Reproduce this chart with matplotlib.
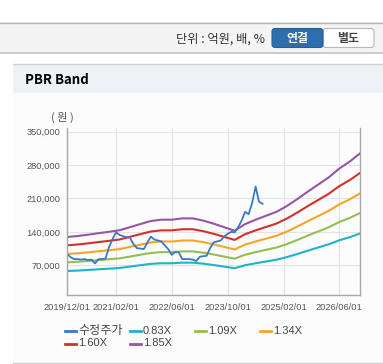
import matplotlib.pyplot as plt
from matplotlib.patches import Rectangle, FancyBboxPatch
from matplotlib.lines import Line2D
import numpy as np
import pandas as pd

plt.rcParams['font.family'] = ['Liberation Sans', 'Noto Sans CJK KR', 'DejaVu Sans']

# monthly adjusted price (수정주가), 2019/12 .. 2024/08
price = [94000, 87000, 83000, 83000, 82000, 83000, 81000, 82000, 74000, 83000,
         83000, 84000, 108000, 125000, 139000, 134000, 131000, 129000, 128000, 115000,
         106000, 105000, 104000, 118000, 130000, 124000, 122000, 120000, 112000, 104000,
         92000, 98000, 97000, 83000, 83000, 83000, 82000, 79000, 88000, 89000,
         90000, 106000, 118000, 120000, 122000, 130000, 136000, 140000, 139000, 150000,
         164000, 182000, 177000, 200000, 235000, 203000, 199000]
price_dates = pd.date_range('2019-12-01', periods=len(price), freq='MS')

# quarterly BPS, 2019/12 .. 2026/12
bps = [69900, 71000, 72500, 74200, 75800, 77500, 81000, 84600, 88000, 89500,
       89500, 91000, 91000, 88500, 85000, 81000, 77000, 84500, 89500, 94000,
       98500, 105000, 113000, 121500, 129500, 137500, 147500, 155500, 165000]
bps_dates = pd.date_range('2019-12-01', periods=len(bps), freq='3MS')

multiples = [0.83, 1.09, 1.34, 1.60, 1.85]
band_labels = ['0.83X', '1.09X', '1.34X', '1.60X', '1.85X']
band_colors = ['#1fb3c8', '#93bf4f', '#f5a62a', '#d1312c', '#9655a5']
price_color = '#3a78c6'

tick_dates = ['2019-12-01', '2021-02-01', '2022-06-01', '2023-10-01', '2025-02-01', '2026-06-01']
tick_labels = ['2019/12/01', '2021/02/01', '2022/06/01', '2023/10/01', '2025/02/01', '2026/06/01']
y_ticks = [70000, 140000, 210000, 280000, 350000]

W, H = 383, 364
fig = plt.figure(figsize=(W / 100, H / 100), dpi=100)
fig.patch.set_facecolor('white')


def fx(px):
    return px / W


def fy(py):
    return 1 - py / H


def bg_rect(x0, y0, x1, y1, color):
    fig.add_artist(Rectangle((fx(x0), fy(y1)), fx(x1) - fx(x0), fy(y0) - fy(y1),
                             transform=fig.transFigure, facecolor=color, edgecolor='none', zorder=-10))


def hline(x0, x1, y, color, lw=1):
    fig.add_artist(Line2D([fx(x0), fx(x1)], [fy(y), fy(y)], transform=fig.transFigure,
                          color=color, lw=lw, zorder=-9))


# top toolbar
bg_rect(0, 22.5, W, 53, '#f4f4f4')
hline(0, W, 22.5, '#b5b5b5')
hline(0, W, 53, '#c4c4c4', 1.2)
fig.text(fx(265), fy(39), '단위 : 억원, 배, %', ha='right', va='center', fontsize=8.8,
         family=['Noto Sans CJK KR', 'DejaVu Sans'], color='#333333')
fig.add_artist(FancyBboxPatch((fx(323), fy(47.5)), fx(51), fy(28.5) - fy(47.5),
                              boxstyle='round,pad=0,rounding_size=0.008', transform=fig.transFigure,
                              facecolor='white', edgecolor='#b8b8b8', lw=0.8))
fig.add_artist(FancyBboxPatch((fx(272), fy(47.5)), fx(51), fy(28.5) - fy(47.5),
                              boxstyle='round,pad=0,rounding_size=0.008', transform=fig.transFigure,
                              facecolor='#2f6eae', edgecolor='#285f98', lw=0.8))
fig.text(fx(297.5), fy(38.5), '연결', ha='center', va='center', fontsize=8.6, weight='bold',
         family=['Noto Sans CJK KR'], color='white')
fig.text(fx(348.5), fy(38.5), '별도', ha='center', va='center', fontsize=8.6, weight='bold',
         family=['Noto Sans CJK KR'], color='#444444')

# panel
bg_rect(13, 93, W, 363, '#fcfcfc')
bg_rect(13, 64, W, 93, '#eef2f7')
hline(13, W, 64, '#d0d0d0')
hline(13, W, 363, '#d0d0d0')
fig.text(fx(25), fy(79.5), 'PBR Band', ha='left', va='center', fontsize=9.5, weight='bold',
         family=['Noto Sans CJK KR'], color='black')
fig.text(fx(62), fy(117), '( 원 )', ha='center', va='center', fontsize=8,
         family=['Noto Sans CJK KR'], color='#555555')

# chart
ax = fig.add_axes([fx(67), fy(295), fx(360) - fx(67), fy(128) - fy(295)])
ax.set_facecolor('#fcfcfc')
bps_arr = np.array(bps)
for m, lab, c in zip(multiples, band_labels, band_colors):
    ax.plot(bps_dates, bps_arr * m, color=c, lw=1.5, label=lab)
ax.plot(price_dates, price, color=price_color, lw=1.3, label='수정주가')

ax.set_xlim(pd.Timestamp('2019-12-01'), pd.Timestamp('2026-11-28'))
ax.set_ylim(7750, 357750)
ax.set_xticks(pd.to_datetime(tick_dates))
ax.set_xticklabels(tick_labels)
ax.set_yticks(y_ticks)
ax.set_yticklabels([f'{v:,}' for v in y_ticks])
ax.tick_params(axis='both', labelsize=6.7, colors='#555555', length=0, pad=5)
ax.tick_params(axis='x', pad=6)
ax.grid(True, color='#e4e4e4', lw=0.8)
ax.set_axisbelow(True)
for s in ['left', 'bottom', 'right']:
    ax.spines[s].set_color('#a8a8a8')
    ax.spines[s].set_linewidth(1)
ax.spines['top'].set_visible(False)

# legend laid out like the original
legend_items = [('수정주가', price_color)] + list(zip(band_labels, band_colors))
for i, (lab, c) in enumerate(legend_items):
    col, row = i % 4, i // 4
    x0 = 65 + col * 65
    y0 = 331 + row * 12.5
    fig.add_artist(Line2D([fx(x0), fx(x0 + 11)], [fy(y0), fy(y0)], transform=fig.transFigure,
                          color=c, lw=2))
    size = 8.7 if i == 0 else 8
    fig.text(fx(x0 + 13), fy(y0), lab, ha='left', va='center', fontsize=size, color='#444444',
             family=['Liberation Sans', 'Noto Sans CJK KR'])

fig.savefig('out.png', dpi=100)
